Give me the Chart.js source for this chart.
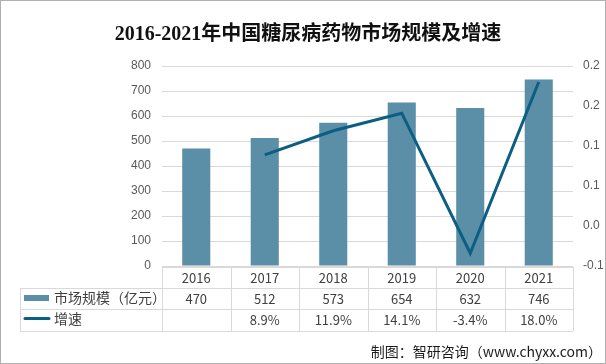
<!DOCTYPE html>
<html>
<head>
<meta charset="utf-8">
<script src="https://cdn.jsdelivr.net/npm/chart.js@4"></script>
<style>
  html, body { margin: 0; padding: 0; background: #fff; }
  canvas { display: block; }
</style>
</head>
<body>
<canvas id="myChart" width="606" height="364"></canvas>
<script>
// 数据
const titleText = '2016-2021年中国糖尿病药物市场规模及增速';
const years = ['2016', '2017', '2018', '2019', '2020', '2021'];
const marketSize = [470, 512, 573, 654, 632, 746]; // 亿元
const growthRate = [null, 0.089, 0.119, 0.141, -0.034, 0.180];
const growthLabels = ['', '8.9%', '11.9%', '14.1%', '-3.4%', '18.0%'];
const sizeName = '市场规模（亿元）';
const growthName = '增速';
const sourceText = '制图：智研咨询（www.chyxx.com）';

const barColor = '#5b8fa7';
const lineColor = '#0c5f82';
const gridColor = '#d9d9d9';
const textColor = '#404040';
const cjkFont = '"Noto Sans CJK SC", "Noto Sans", sans-serif';

// 标题、数据表、来源
const extrasPlugin = {
    id: 'extras',
    afterDraw(chart) {
        const c = chart.ctx;
        const area = chart.chartArea;
        const n = years.length;
        const colW = (area.right - area.left) / n;
        const rowTop = [267, 288, 309, 331];
        const tableLeft = 20;

        c.save();
        // 外框
        c.strokeStyle = '#b0b0b0';
        c.lineWidth = 1;
        c.strokeRect(0.5, 0.5, 605, 363);

        // 标题
        c.fillStyle = '#111';
        c.font = 'bold 20px "Liberation Serif", "DejaVu Serif", "Noto Sans CJK SC", serif';
        c.textAlign = 'center';
        c.textBaseline = 'middle';
        c.fillText(titleText, 308, 35);

        // 表格线
        c.strokeStyle = gridColor;
        c.beginPath();
        c.moveTo(area.left, rowTop[0] + 0.5);
        c.lineTo(area.right, rowTop[0] + 0.5);
        for (let r = 1; r < rowTop.length; r++) {
            c.moveTo(tableLeft, rowTop[r] + 0.5);
            c.lineTo(area.right, rowTop[r] + 0.5);
        }
        c.moveTo(tableLeft + 0.5, rowTop[1]);
        c.lineTo(tableLeft + 0.5, rowTop[3]);
        for (let i = 0; i <= n; i++) {
            const x = Math.round(area.left + i * colW) + 0.5;
            c.moveTo(x, rowTop[0]);
            c.lineTo(x, rowTop[3]);
        }
        c.stroke();

        // 表格文字
        c.fillStyle = textColor;
        c.font = '13px ' + cjkFont;
        c.textAlign = 'center';
        c.textBaseline = 'middle';
        const xs = chart.scales.x;
        for (let i = 0; i < n; i++) {
            const x = xs.getPixelForValue(i);
            c.fillText(years[i], x, 278);
            c.fillText(String(marketSize[i]), x, 299);
            c.fillText(growthLabels[i], x, 320);
        }

        // 图例
        c.fillStyle = barColor;
        c.fillRect(24, 295, 25, 6);
        c.strokeStyle = lineColor;
        c.lineWidth = 3;
        c.lineCap = 'round';
        c.beginPath();
        c.moveTo(25, 318.5);
        c.lineTo(49, 318.5);
        c.stroke();
        c.fillStyle = textColor;
        c.textAlign = 'left';
        c.font = '14px ' + cjkFont;
        c.fillText(sizeName, 54, 298);
        c.fillText(growthName, 54, 319);

        // 来源
        c.fillStyle = '#1a1a1a';
        c.textAlign = 'right';
        c.font = '14px ' + cjkFont;
        c.fillText(sourceText, 602, 352);
        c.restore();
    }
};

const ctx = document.getElementById('myChart').getContext('2d');
const myChart = new Chart(ctx, {
    data: {
        labels: years,
        datasets: [{
            type: 'line',
            label: growthName,
            data: growthRate,
            yAxisID: 'y1',
            borderColor: lineColor,
            borderWidth: 3,
            pointRadius: 0,
            tension: 0,
            fill: false,
            order: 0
        }, {
            type: 'bar',
            label: sizeName,
            data: marketSize,
            yAxisID: 'y',
            backgroundColor: barColor,
            categoryPercentage: 1,
            barPercentage: 0.41,
            order: 1
        }]
    },
    options: {
        responsive: false,
        animation: false,
        layout: { padding: { left: 0, right: 0, top: 66, bottom: 98 } },
        plugins: {
            legend: { display: false },
            tooltip: { enabled: false },
            title: { display: false }
        },
        scales: {
            x: {
                display: false,
                offset: true
            },
            y: {
                position: 'left',
                min: 0,
                max: 800,
                afterFit(scale) { scale.width = 162; },
                grid: { color: gridColor, drawTicks: false },
                border: { display: false },
                ticks: {
                    stepSize: 100,
                    padding: 11,
                    color: '#595959',
                    font: { size: 12, family: '"Liberation Sans", sans-serif' }
                }
            },
            y1: {
                position: 'right',
                min: -0.05,
                max: 0.2,
                afterFit(scale) { scale.width = 33; },
                grid: { display: false, drawTicks: false },
                border: { display: false },
                ticks: {
                    stepSize: 0.05,
                    padding: 10,
                    color: '#595959',
                    font: { size: 12, family: '"Liberation Sans", sans-serif' },
                    callback: function (v) {
                        // 像Excel一样保留一位小数（四舍五入远离零）
                        const s = v < 0 ? -1 : 1;
                        const r = s * Math.round(Math.abs(v) * 10 + 1e-9) / 10;
                        return r.toFixed(1);
                    }
                }
            }
        }
    },
    plugins: [extrasPlugin]
});
</script>
</body>
</html>
